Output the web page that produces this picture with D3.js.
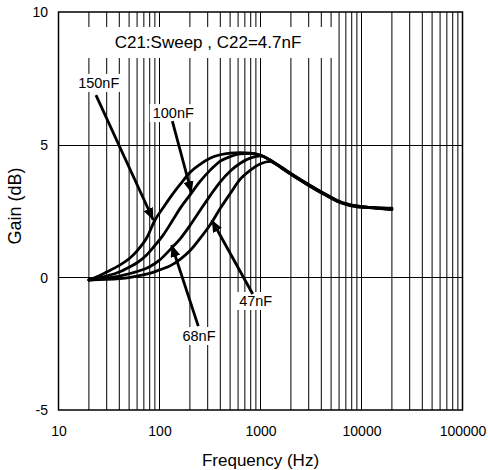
<!DOCTYPE html>
<html>
<head>
<meta charset="utf-8">
<script src="https://cdn.jsdelivr.net/npm/d3@7/dist/d3.min.js"></script>
<style>
  html, body { margin: 0; padding: 0; background: #fff; }
  svg { display: block; }
  text { font-family: "Liberation Sans", Arial, Helvetica, sans-serif; fill: #000; }
</style>
</head>
<body>
<svg id="chart" width="488" height="470"></svg>
<script>
// ---- data ----
const xTicks = [10, 100, 1000, 10000, 100000];
const yTicks = [-5, 0, 5, 10];
const yGrid = [0, 5];

const seriesNames = ["150nF", "100nF", "68nF", "47nF"];

const freq150 = [20, 25, 30, 40, 50, 60, 75, 90, 110, 130, 160, 200, 250, 320, 400, 500, 630, 800, 1000];
const gain150 = [-0.1, 0.05, 0.2, 0.45, 0.7, 1.0, 1.5, 2.15, 2.65, 3.05, 3.5, 3.95, 4.25, 4.5, 4.62, 4.68, 4.7, 4.68, 4.6];

const freq100 = [20, 30, 40, 50, 60, 75, 90, 110, 135, 160, 200, 250, 320, 400, 500, 630, 800, 1000];
const gain100 = [-0.1, 0.05, 0.2, 0.38, 0.55, 0.85, 1.2, 1.62, 2.15, 2.6, 3.1, 3.6, 4.05, 4.38, 4.55, 4.65, 4.67, 4.6];

const freq68 = [20, 40, 60, 80, 100, 130, 160, 200, 250, 320, 400, 500, 630, 800, 1000];
const gain68 = [-0.1, 0.05, 0.22, 0.4, 0.65, 1.08, 1.45, 1.95, 2.5, 3.1, 3.6, 4.0, 4.3, 4.5, 4.58];

const freq47 = [20, 40, 60, 80, 100, 130, 160, 200, 250, 320, 400, 500, 630, 800, 1000, 1250];
const gain47 = [-0.1, -0.05, 0.05, 0.15, 0.28, 0.45, 0.68, 1.0, 1.45, 2.0, 2.6, 3.15, 3.7, 4.05, 4.28, 4.37];

// common high-frequency tail (each series ends slightly apart -> thick look)
const tailFreq = [1330, 1600, 2000, 2860, 4200, 6100, 9000, 13000, 20000];
const tail150 = [4.36, 4.16, 3.92, 3.55, 3.18, 2.86, 2.69, 2.62, 2.55];
const tail100 = [4.35, 4.15, 3.9, 3.53, 3.16, 2.84, 2.68, 2.62, 2.57];
const tail68 = [4.34, 4.14, 3.89, 3.52, 3.15, 2.83, 2.67, 2.63, 2.59];
const tail47 = [4.33, 4.13, 3.88, 3.51, 3.14, 2.82, 2.66, 2.63, 2.61];

const titleText = "C21:Sweep , C22=4.7nF";
const xTitle = "Frequency (Hz)";
const yTitle = "Gain (dB)";

// annotations in data units: label position, arrow start, arrow tip
const annoLabelF = [25, 137, 246, 896];
const annoLabelG = [7.14, 6.0, -2.4, -1.08];
const annoFromF = [23.5, 134, 242, 837];
const annoFromG = [6.87, 5.89, -1.84, -0.63];
const annoToF = [86.8, 208, 132, 329];
const annoToG = [2.16, 3.17, 1.22, 2.16];

// ---- layout ----
const L = 58.5, R = 462.5, T = 12, B = 410;
const svg = d3.select("#chart");
const x = d3.scaleLog().domain([10, 100000]).range([L, R]);
const y = d3.scaleLinear().domain([-5, 10]).range([B, T]);

// minor/major vertical grid values
const vGrid = [];
for (let d = 10; d < 100000; d *= 10) {
  for (let k = 1; k <= 9; k++) {
    const v = d * k;
    if (v > 10 && v < 100000) vGrid.push(v);
  }
}

const gridG = svg.append("g");
gridG.selectAll("line.v").data(vGrid).join("line")
  .attr("x1", d => x(d)).attr("x2", d => x(d))
  .attr("y1", T).attr("y2", B)
  .attr("stroke", "#000").attr("stroke-width", 1);
gridG.selectAll("line.h").data(yGrid).join("line")
  .attr("x1", L).attr("x2", R)
  .attr("y1", d => Math.round(y(d)) + 0.5).attr("y2", d => Math.round(y(d)) + 0.5)
  .attr("stroke", "#000").attr("stroke-width", 1);

// white label boxes (hide grid behind)
const boxG = svg.append("g");
boxG.append("rect").attr("x", 80).attr("y", 27).attr("width", 255).attr("height", 31).attr("fill", "#fff");

// frame
svg.append("rect").attr("x", L).attr("y", T).attr("width", R - L).attr("height", B - T)
  .attr("fill", "none").attr("stroke", "#000").attr("stroke-width", 1.5);

// title text
svg.append("text").attr("x", 208).attr("y", 47.5).attr("text-anchor", "middle")
  .style("font-size", "17px").text(titleText);

// axes labels (no tick marks)
const xAxis = d3.axisBottom(x).tickValues(xTicks).tickFormat(d => String(d)).tickSize(0).tickPadding(0);
const xa = svg.append("g").attr("transform", `translate(0,${B})`).call(xAxis);
xa.select(".domain").remove();
xa.selectAll("text").attr("dy", null).attr("y", 25.5).style("font-size", "14px")
  .style("font-family", '"Liberation Sans", Arial, sans-serif');

const yAxis = d3.axisLeft(y).tickValues(yTicks).tickFormat(d => String(d)).tickSize(0).tickPadding(0);
const ya = svg.append("g").attr("transform", `translate(${L},0)`).call(yAxis);
ya.select(".domain").remove();
ya.selectAll("text").attr("x", -10.5).attr("dy", "0.35em").style("font-size", "14px")
  .style("font-family", '"Liberation Sans", Arial, sans-serif');

svg.append("text").attr("x", (L + R) / 2).attr("y", 466).attr("text-anchor", "middle")
  .style("font-size", "17px").text(xTitle);
svg.append("text").attr("transform", `translate(21,${(T + B) / 2 - 5}) rotate(-90)`)
  .attr("text-anchor", "middle").style("font-size", "18px").text(yTitle);

// curves
const freqs = [freq150, freq100, freq68, freq47];
const gains = [gain150, gain100, gain68, gain47];
const tails = [tail150, tail100, tail68, tail47];
const line = d3.line().x(d => x(d[0])).y(d => y(d[1])).curve(d3.curveMonotoneX);
const curveG = svg.append("g");
seriesNames.forEach((name, i) => {
  const pts = freqs[i].map((f, j) => [f, gains[i][j]])
    .concat(tailFreq.map((f, j) => [f, tails[i][j]]));
  curveG.append("path").datum(pts).attr("d", line)
    .attr("fill", "none").attr("stroke", "#000").attr("stroke-width", 2.8)
    .attr("stroke-linejoin", "round").attr("stroke-linecap", "round");
});

// arrow marker
svg.append("defs").append("marker")
  .attr("id", "ah").attr("viewBox", "0 0 12 10").attr("refX", 12).attr("refY", 5)
  .attr("markerWidth", 12).attr("markerHeight", 10).attr("markerUnits", "userSpaceOnUse")
  .attr("orient", "auto")
  .append("path").attr("d", "M0,0 L12,5 L0,10 Z").attr("fill", "#000");

// annotations
const annoG = svg.append("g");
seriesNames.forEach((name, i) => {
  const lx = x(annoLabelF[i]), ly = y(annoLabelG[i]);
  const t = annoG.append("text").attr("x", lx).attr("y", ly).attr("text-anchor", "middle")
    .style("font-size", "14.5px").text(name);
  const bb = t.node().getBBox();
  annoG.insert("rect", "text").attr("x", bb.x - 3).attr("y", bb.y - 1)
    .attr("width", bb.width + 6).attr("height", bb.height + 2).attr("fill", "#fff");
  annoG.append("line")
    .attr("x1", x(annoFromF[i])).attr("y1", y(annoFromG[i]))
    .attr("x2", x(annoToF[i])).attr("y2", y(annoToG[i]))
    .attr("stroke", "#000").attr("stroke-width", 2.8).attr("marker-end", "url(#ah)");
});
</script>
</body>
</html>
